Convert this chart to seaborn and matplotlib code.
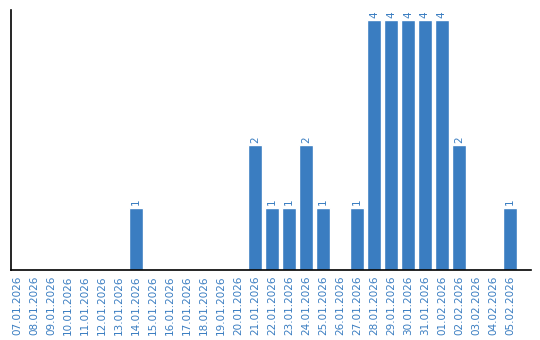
import matplotlib
matplotlib.use("Agg")
import matplotlib.pyplot as plt
import seaborn as sns
import pandas as pd

dates = ["07.01.2026", "08.01.2026", "09.01.2026", "10.01.2026", "11.01.2026",
         "12.01.2026", "13.01.2026", "14.01.2026", "15.01.2026", "16.01.2026",
         "17.01.2026", "18.01.2026", "19.01.2026", "20.01.2026", "21.01.2026",
         "22.01.2026", "23.01.2026", "24.01.2026", "25.01.2026", "26.01.2026",
         "27.01.2026", "28.01.2026", "29.01.2026", "30.01.2026", "31.01.2026",
         "01.02.2026", "02.02.2026", "03.02.2026", "04.02.2026", "05.02.2026"]
counts = [0, 0, 0, 0, 0, 0, 0, 1, 0, 0,
          0, 0, 0, 0, 2, 1, 1, 2, 1, 0,
          1, 4, 4, 4, 4, 4, 2, 0, 0, 1]

BLUE = "#3a7dc1"

sns.set_theme(style="white")
plt.rcParams['font.family'] = ['DejaVu Sans']

df = pd.DataFrame({"date": dates, "count": counts})

fig = plt.figure(figsize=(5.4, 3.4), dpi=100)
ax = fig.add_axes([11/540, 70/340, 520/540, 260/340])
sns.barplot(data=df, x="date", y="count", color=BLUE, saturation=1,
            width=0.82, ax=ax, order=dates)

for i, v in enumerate(counts):
    if v > 0:
        ax.text(i, v + 0.04, str(v), rotation=90, ha="center", va="bottom",
                color=BLUE, fontsize=7.5)

ax.set_xlim(-0.353, 30.24)
ax.set_ylim(0, 4.16)
ax.set_xlabel("")
ax.set_ylabel("")
ax.set_yticks([])
ax.set_xticks(range(len(dates)))
ax.set_xticklabels(dates, rotation=90, color=BLUE, fontsize=7.5)
ax.tick_params(axis="x", length=0, pad=4)
for s in ["top", "right"]:
    ax.spines[s].set_visible(False)
for s in ["left", "bottom"]:
    ax.spines[s].set_color("black")
    ax.spines[s].set_linewidth(1.2)

fig.savefig("out.png", dpi=100)
